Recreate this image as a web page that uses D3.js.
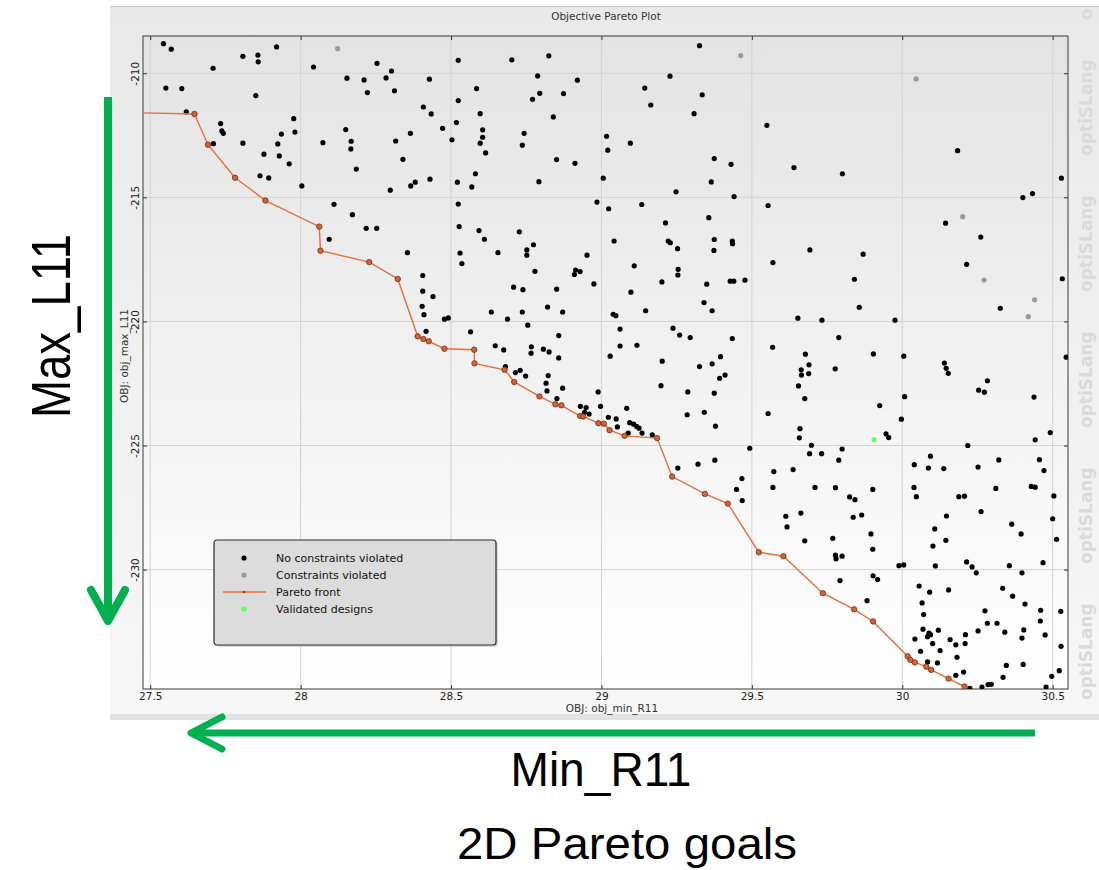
<!DOCTYPE html>
<html>
<head>
<meta charset="utf-8">
<script src="https://cdn.jsdelivr.net/npm/d3@7"></script>
<style>
  body { margin: 0; background: #fff; }
  svg { display: block; }
</style>
</head>
<body>
<div id="main"></div>
<script>
const ctx = {
    w: 1099,
    h: 870,
    panel: { left: 110, top: 6, right: 1099, bottom: 720 },
    plot: { left: 143, top: 36, right: 1068, bottom: 689 },
    font: "'DejaVu Sans', Verdana, sans-serif",
    noteFont: "'Liberation Sans', Arial, sans-serif",
    green: "#00b050",
};

// axis extent and ticks
const xDomain = [27.476, 30.551];
const yDomain = [-234.81, -208.5];
const xTicks = [27.5, 28, 28.5, 29, 29.5, 30, 30.5];
const yTicks = [-210, -215, -220, -225, -230];

// designs without violated constraints (obj_min_R11, obj_max_L11)
const feasibleR11 = [
    27.544, 27.570, 27.920, 27.808, 27.858, 27.859, 27.709, 28.043, 28.254, 28.302,
    28.284, 28.154, 28.211, 28.222, 28.312, 28.428, 28.524, 28.702, 28.825, 28.788,
    28.920, 28.585, 28.524, 28.771, 28.795, 28.874, 27.552, 27.605, 27.851, 27.620,
    27.734, 27.738, 27.743, 27.710, 27.808, 27.977, 27.981, 27.936, 27.924, 27.929,
    27.878, 27.962, 27.865, 27.894, 28.004, 28.074, 28.150, 28.168, 28.167, 28.185,
    28.408, 28.434, 28.365, 28.316, 28.472, 28.518, 28.503, 28.597, 28.605, 28.605,
    28.597, 28.615, 28.743, 28.737, 28.840, 28.851, 28.912, 28.340, 28.430, 28.381,
    28.366, 28.298, 28.521, 28.581, 28.569, 28.792, 28.524, 28.985, 28.111, 28.172,
    28.218, 28.253, 28.095, 28.527, 28.593, 28.611, 28.727, 28.774, 28.752, 28.355,
    28.530, 28.536, 28.656, 28.752, 28.779, 28.952, 28.914, 28.929, 28.910, 28.975,
    28.406, 28.406, 28.440, 28.404, 28.410, 28.478, 28.491, 28.417, 28.708, 28.739,
    28.851, 28.634, 28.688, 28.737, 28.821, 28.871, 28.755, 28.858, 28.565, 28.647,
    28.675, 28.767, 28.766, 28.807, 28.826, 28.858, 28.681, 28.714, 28.730, 28.748,
    28.823, 28.816, 28.819, 28.871, 28.852, 28.930, 28.949, 28.944, 28.959, 28.989,
    28.997, 29.098, 29.147, 29.039, 29.048, 29.062, 29.062, 29.118, 29.029, 29.084,
    29.023, 29.049, 29.053, 29.094, 29.107, 29.117, 29.125, 29.135, 29.169, 29.089,
    29.238, 29.260, 29.295, 29.202, 29.198, 29.287, 29.285, 29.326, 29.326, 29.228,
    29.144, 29.335, 29.164, 29.308, 29.017, 29.021, 29.096, 29.375, 29.431, 29.006,
    29.365, 29.248, 29.441, 29.024, 29.134, 29.213, 29.357, 29.042, 29.222, 29.229,
    29.375, 29.435, 29.436, 29.253, 29.374, 29.550, 29.640, 29.801, 29.554, 29.693,
    30.184, 30.529, 30.401, 30.433, 30.144, 30.261, 29.870, 29.570, 30.214, 30.326,
    30.532, 29.109, 29.201, 29.255, 29.254, 29.350, 29.428, 29.440, 29.477, 29.341,
    29.368, 29.435, 29.368, 29.396, 29.393, 29.411, 29.375, 29.342, 29.379, 29.493,
    29.254, 29.321, 29.377, 29.467, 29.449, 29.570, 29.573, 29.637, 29.569, 29.653,
    29.733, 29.789, 29.841, 29.857, 29.976, 29.678, 29.690, 29.664, 29.665, 29.689,
    29.777, 29.655, 29.676, 29.904, 30.005, 29.925, 30.008, 29.997, 29.946, 29.955,
    29.554, 29.660, 29.658, 29.698, 29.692, 29.732, 29.800, 29.789, 29.710, 29.778,
    29.902, 30.140, 30.146, 30.153, 30.254, 30.273, 30.283, 30.438, 30.545, 30.492,
    30.442, 30.218, 30.094, 30.040, 30.087, 30.138, 30.252, 30.321, 30.456, 30.471,
    30.039, 30.311, 30.429, 30.442, 29.468, 29.825, 29.843, 29.613, 29.617, 29.663,
    29.676, 29.769, 29.778, 29.780, 29.800, 29.837, 29.865, 29.896, 29.902, 29.793,
    29.903, 29.918, 29.883, 30.047, 30.188, 30.207, 30.504, 30.147, 30.262, 30.108,
    30.145, 30.102, 30.364, 30.395, 30.500, 30.513, 29.989, 30.005, 30.110, 30.214,
    30.232, 30.246, 30.356, 30.398, 30.468, 30.056, 30.091, 30.154, 30.066, 30.071,
    30.334, 30.367, 30.408, 30.275, 30.283, 30.315, 30.460, 30.527, 30.459, 30.069,
    30.089, 30.094, 30.084, 30.120, 30.042, 30.101, 30.159, 30.178, 30.210, 30.209,
    30.252, 30.341, 30.398, 30.404, 30.475, 30.528, 30.061, 30.126, 30.182, 30.084,
    30.117, 30.204, 30.178, 30.346, 30.402, 30.335, 30.497, 30.522, 30.225, 30.265,
    30.285, 30.296, 30.478
];
const feasibleL11 = [
    -208.81, -209.03, -208.94, -209.32, -209.27, -209.54, -209.80, -209.75, -209.60, -209.91,
    -210.19, -210.20, -210.27, -210.78, -210.71, -210.24, -209.48, -209.46, -209.30, -210.11,
    -210.28, -210.62, -211.10, -211.05, -210.81, -210.82, -210.60, -210.62, -210.90, -211.56,
    -212.03, -212.32, -212.42, -212.84, -212.82, -211.83, -212.37, -212.45, -212.85, -213.33,
    -213.26, -213.65, -214.13, -214.22, -214.54, -212.80, -212.27, -212.74, -213.05, -213.86,
    -211.36, -211.64, -212.42, -212.73, -212.22, -211.99, -212.68, -211.63, -212.28, -212.58,
    -212.82, -213.21, -212.42, -212.90, -211.76, -213.48, -213.63, -213.47, -214.27, -214.39,
    -214.54, -214.71, -214.39, -214.05, -214.58, -214.37, -215.27, -215.19, -215.28, -215.70,
    -216.25, -216.25, -216.69, -216.18, -216.34, -216.69, -216.39, -216.91, -217.12, -217.23,
    -217.25, -217.67, -217.23, -217.33, -217.98, -217.33, -217.93, -217.99, -218.11, -218.49,
    -218.15, -218.78, -219.00, -219.39, -219.73, -219.91, -219.86, -220.40, -218.62, -218.72,
    -218.70, -219.62, -219.91, -219.62, -219.42, -219.62, -220.15, -220.57, -220.42, -220.98,
    -221.15, -221.02, -221.28, -221.12, -221.23, -221.47, -221.82, -222.06, -221.97, -222.20,
    -222.18, -222.49, -222.80, -222.69, -223.11, -223.42, -223.47, -223.66, -223.73, -222.84,
    -223.42, -218.82, -219.57, -219.71, -219.77, -220.31, -220.99, -220.96, -221.40, -223.50,
    -223.86, -223.93, -224.25, -224.08, -224.14, -224.23, -224.30, -224.50, -224.57, -224.50,
    -220.27, -220.55, -220.65, -221.60, -222.59, -222.84, -223.76, -221.82, -208.89, -210.12,
    -210.60, -210.87, -211.28, -211.63, -212.54, -213.10, -212.82, -213.44, -213.67, -214.23,
    -214.38, -214.78, -214.97, -215.46, -215.29, -216.03, -215.82, -216.76, -216.76, -216.83,
    -216.70, -216.76, -216.87, -217.07, -217.14, -212.10, -213.80, -214.05, -215.33, -217.12,
    -213.12, -214.23, -215.01, -214.85, -216.04, -216.60, -217.29, -217.63, -217.70, -219.47,
    -218.28, -217.76, -218.41, -217.90, -218.13, -218.50, -218.38, -218.38, -218.34, -219.24,
    -219.57, -220.69, -221.71, -221.42, -222.29, -222.16, -222.89, -223.66, -224.22, -225.11,
    -225.91, -225.75, -225.59, -226.33, -226.77, -226.69, -226.05, -225.97, -221.04, -219.87,
    -219.95, -220.65, -218.30, -219.43, -219.95, -221.32, -221.75, -221.95, -222.16, -222.10,
    -221.91, -222.60, -223.11, -221.31, -221.40, -223.39, -223.03, -223.94, -224.53, -224.68,
    -223.71, -224.32, -224.69, -224.99, -225.33, -225.33, -225.14, -225.59, -226.69, -226.70,
    -226.77, -221.68, -221.89, -222.09, -222.77, -222.85, -222.39, -223.05, -221.44, -224.48,
    -224.77, -225.00, -225.43, -225.77, -225.91, -225.93, -225.87, -225.58, -225.57, -226.01,
    -226.69, -226.73, -226.65, -226.68, -227.22, -227.07, -227.18, -227.85, -228.28, -227.72,
    -228.84, -228.74, -229.42, -229.56, -229.46, -227.89, -227.80, -228.56, -229.18, -230.44,
    -230.25, -230.40, -231.25, -227.06, -227.06, -227.04, -227.03, -227.84, -227.66, -228.36,
    -228.82, -229.05, -228.17, -228.56, -227.95, -228.78, -229.84, -229.81, -229.85, -229.69,
    -229.89, -230.13, -229.84, -230.13, -229.72, -230.66, -230.91, -230.82, -231.34, -231.81,
    -230.75, -231.07, -231.39, -231.66, -232.16, -232.16, -231.64, -231.68, -232.07, -232.40,
    -232.56, -232.62, -232.70, -232.44, -232.80, -232.98, -232.82, -233.03, -232.62, -232.98,
    -232.47, -232.52, -232.76, -232.43, -232.63, -233.09, -233.29, -233.26, -233.53, -233.72,
    -233.76, -234.13, -234.26, -233.86, -233.82, -234.34, -234.30, -234.07, -234.78, -234.73,
    -234.63, -234.62, -234.73
];

// designs with violated constraints
const violatedR11 = [28.123, 29.463, 30.046, 30.201, 30.272, 30.440, 30.419];
const violatedL11 = [-209.01, -209.29, -210.23, -215.78, -218.33, -219.13, -219.81];

// pareto front, sorted along obj_min_R11
const paretoR11 = [
    27.400, 27.647, 27.692, 27.782, 27.883, 28.062, 28.066, 28.228, 28.323, 28.389,
    28.408, 28.426, 28.478, 28.577, 28.578, 28.678, 28.710, 28.794, 28.847, 28.867,
    28.929, 28.939, 28.990, 29.008, 29.027, 29.077, 29.185, 29.235, 29.344, 29.420,
    29.523, 29.605, 29.736, 29.840, 29.903, 30.018, 30.027, 30.042, 30.080, 30.096,
    30.154, 30.207, 30.225
];
const paretoL11 = [
    -211.58, -211.64, -212.88, -214.21, -215.13, -216.18, -217.15, -217.61, -218.29, -220.60,
    -220.71, -220.80, -221.10, -221.14, -221.69, -221.95, -222.44, -223.02, -223.34, -223.38,
    -223.81, -223.83, -224.10, -224.12, -224.38, -224.61, -224.70, -226.25, -226.95, -227.34,
    -229.30, -229.46, -230.95, -231.60, -232.09, -233.49, -233.64, -233.74, -233.91, -234.04,
    -234.39, -234.71, -235.00
];

// validated designs
const validatedR11 = [29.906];
const validatedL11 = [-224.76];

const legendLabels = ["No constraints violated", "Constraints violated", "Pareto front", "Validated designs"];
// watermark: start of each word along the right margin (the top one is only partly visible)
const watermarkStarts = [20, 156, 292, 428, 564, 700];
const watermarkWords = ["o", "optiSLang", "optiSLang", "optiSLang", "optiSLang", "optiSLang"];

function createViz() {
    const svgEl = d3.select("#main").append("svg")
        .attr("width", ctx.w)
        .attr("height", ctx.h);
    svgEl.append("rect").attr("width", ctx.w).attr("height", ctx.h).attr("fill", "#fff");

    const defs = svgEl.append("defs");
    const pg = defs.append("linearGradient").attr("id", "panelGrad")
        .attr("x1", 0).attr("y1", 0).attr("x2", 0).attr("y2", 1);
    pg.append("stop").attr("offset", "0%").attr("stop-color", "#e9e9e9");
    pg.append("stop").attr("offset", "100%").attr("stop-color", "#f7f7f7");
    const bg = defs.append("linearGradient").attr("id", "plotGrad")
        .attr("x1", 0).attr("y1", 0).attr("x2", 0).attr("y2", 1);
    bg.append("stop").attr("offset", "0%").attr("stop-color", "#e3e3e3");
    bg.append("stop").attr("offset", "100%").attr("stop-color", "#ffffff");
    defs.append("clipPath").attr("id", "plotClip").append("rect")
        .attr("x", ctx.plot.left).attr("y", ctx.plot.top)
        .attr("width", ctx.plot.right - ctx.plot.left)
        .attr("height", ctx.plot.bottom - ctx.plot.top);

    const rootG = svgEl.append("g").attr("id", "rootG");
    const xScale = d3.scaleLinear().domain(xDomain).range([ctx.plot.left, ctx.plot.right]);
    const yScale = d3.scaleLinear().domain(yDomain).range([ctx.plot.bottom, ctx.plot.top]);

    drawPanel(rootG);
    drawGraph(rootG, xScale, yScale);
    drawLegend(rootG);
    drawNotes(rootG);
}

function drawPanel(svg) {
    const p = ctx.panel;
    svg.append("rect")
        .attr("x", p.left).attr("y", p.top)
        .attr("width", p.right - p.left).attr("height", p.bottom - p.top)
        .attr("fill", "url(#panelGrad)");
    svg.append("line")
        .attr("x1", p.left).attr("x2", p.right).attr("y1", p.top + 0.5).attr("y2", p.top + 0.5)
        .attr("stroke", "#c9c9c9");
    svg.append("rect")
        .attr("x", p.left).attr("y", p.bottom - 6)
        .attr("width", p.right - p.left).attr("height", 6)
        .attr("fill", "#e3e3e3");

    // optiSLang watermark
    svg.append("g").selectAll("text")
        .data(watermarkStarts)
        .enter()
        .append("text")
        .attr("transform", d => `translate(1092, ${d}) rotate(-90)`)
        .attr("text-anchor", "start")
        .style("font-family", ctx.font)
        .style("font-size", "17px")
        .style("font-weight", "bold")
        .style("fill", "#dadada")
        .text((d, i) => watermarkWords[i]);

    svg.append("text")
        .attr("x", 606)
        .attr("y", 20)
        .attr("text-anchor", "middle")
        .style("font-family", ctx.font)
        .style("font-size", "10.5px")
        .style("fill", "#333")
        .text("Objective Pareto Plot");
}

function drawGraph(svg, xScale, yScale) {
    const pl = ctx.plot;
    svg.append("rect")
        .attr("x", pl.left).attr("y", pl.top)
        .attr("width", pl.right - pl.left).attr("height", pl.bottom - pl.top)
        .attr("fill", "url(#plotGrad)");

    // grid
    svg.append("g").selectAll("line")
        .data(xTicks).enter().append("line")
        .attr("x1", d => xScale(d)).attr("x2", d => xScale(d))
        .attr("y1", pl.top).attr("y2", pl.bottom)
        .attr("stroke", "#d3d3d3");
    svg.append("g").selectAll("line")
        .data(yTicks).enter().append("line")
        .attr("x1", pl.left).attr("x2", pl.right)
        .attr("y1", d => yScale(d)).attr("y2", d => yScale(d))
        .attr("stroke", "#d3d3d3");

    // axes, ticks pointing inward
    const styleAxis = g => {
        g.select(".domain").remove();
        g.selectAll("line").attr("stroke", "#333");
        g.selectAll("text")
            .style("font-family", ctx.font)
            .style("font-size", "10.5px")
            .style("fill", "#222");
    };
    svg.append("g")
        .attr("transform", `translate(0, ${pl.bottom})`)
        .call(d3.axisBottom(xScale).tickValues(xTicks).tickSize(-4).tickPadding(4).tickFormat(d => String(d)))
        .call(styleAxis);
    svg.append("g")
        .attr("transform", `translate(0, ${pl.top})`)
        .call(d3.axisTop(xScale).tickValues(xTicks).tickSize(-4).tickFormat(""))
        .call(styleAxis);
    svg.append("g")
        .attr("transform", `translate(${pl.right}, 0)`)
        .call(d3.axisRight(yScale).tickValues(yTicks).tickSize(-4).tickFormat(""))
        .call(styleAxis);
    svg.append("g")
        .attr("transform", `translate(${pl.left}, 0)`)
        .call(d3.axisLeft(yScale).tickValues(yTicks).tickSize(-4).tickFormat(d => String(d)))
        .call(styleAxis)
        .selectAll("text")
        .attr("x", null)
        .attr("dy", null)
        .attr("text-anchor", "middle")
        .attr("transform", "translate(-4, 0) rotate(-90)");

    svg.append("rect")
        .attr("x", pl.left).attr("y", pl.top)
        .attr("width", pl.right - pl.left).attr("height", pl.bottom - pl.top)
        .attr("fill", "none")
        .attr("stroke", "#3a3a3a");

    // axis names
    svg.append("text")
        .attr("x", 612)
        .attr("y", 712)
        .attr("text-anchor", "middle")
        .style("font-family", ctx.font)
        .style("font-size", "10.5px")
        .style("fill", "#333")
        .text("OBJ: obj_min_R11");
    svg.append("text")
        .attr("transform", "translate(128, 356) rotate(-90)")
        .attr("text-anchor", "middle")
        .style("font-family", ctx.font)
        .style("font-size", "10.5px")
        .style("fill", "#333")
        .text("OBJ: obj_max_L11");

    const marks = svg.append("g").attr("clip-path", "url(#plotClip)");

    marks.selectAll(".feasible")
        .data(d3.range(feasibleR11.length))
        .enter()
        .append("circle")
        .attr("class", "feasible")
        .attr("cx", i => xScale(feasibleR11[i]))
        .attr("cy", i => yScale(feasibleL11[i]))
        .attr("r", 2.6)
        .style("fill", "#000");

    marks.selectAll(".violated")
        .data(d3.range(violatedR11.length))
        .enter()
        .append("circle")
        .attr("class", "violated")
        .attr("cx", i => xScale(violatedR11[i]))
        .attr("cy", i => yScale(violatedL11[i]))
        .attr("r", 2.6)
        .style("fill", "#9a9a9a");

    // pareto front
    const line = d3.line()
        .x(i => xScale(paretoR11[i]))
        .y(i => yScale(paretoL11[i]));
    marks.append("path")
        .datum(d3.range(paretoR11.length))
        .attr("d", line)
        .attr("fill", "none")
        .attr("stroke", "#e2703c")
        .attr("stroke-width", 1.4);
    marks.selectAll(".pareto")
        .data(d3.range(1, paretoR11.length - 1))
        .enter()
        .append("circle")
        .attr("class", "pareto")
        .attr("cx", i => xScale(paretoR11[i]))
        .attr("cy", i => yScale(paretoL11[i]))
        .attr("r", 2.7)
        .style("fill", "#d4643a")
        .style("stroke", "#6e2a10")
        .style("stroke-width", 0.8);

    marks.selectAll(".validated")
        .data(d3.range(validatedR11.length))
        .enter()
        .append("circle")
        .attr("class", "validated")
        .attr("cx", i => xScale(validatedR11[i]))
        .attr("cy", i => yScale(validatedL11[i]))
        .attr("r", 2.6)
        .style("fill", "#66ff66");
}

function drawLegend(svg) {
    const lg = svg.append("g").attr("transform", "translate(214, 540)");
    lg.append("rect")
        .attr("x", 2).attr("y", 2)
        .attr("width", 282).attr("height", 105).attr("rx", 3)
        .attr("fill", "#c4c4c4").attr("opacity", 0.6);
    lg.append("rect")
        .attr("width", 282).attr("height", 105).attr("rx", 3)
        .attr("fill", "#dcdcdc")
        .attr("stroke", "#2a2a2a")
        .attr("stroke-width", 1.2);

    const rowY = i => 18 + i * 17;
    lg.selectAll("text")
        .data(legendLabels)
        .enter()
        .append("text")
        .attr("x", 62)
        .attr("y", (d, i) => rowY(i) + 4)
        .style("font-family", ctx.font)
        .style("font-size", "11px")
        .style("fill", "#111")
        .text(d => d);

    lg.append("circle").attr("cx", 30).attr("cy", rowY(0)).attr("r", 2.6).style("fill", "#000");
    lg.append("circle").attr("cx", 30).attr("cy", rowY(1)).attr("r", 2.6).style("fill", "#9a9a9a");
    lg.append("line")
        .attr("x1", 9).attr("x2", 52).attr("y1", rowY(2)).attr("y2", rowY(2))
        .attr("stroke", "#e2703c").attr("stroke-width", 1.4);
    lg.append("circle").attr("cx", 30).attr("cy", rowY(2)).attr("r", 1.3).style("fill", "#a8401c");
    lg.append("circle").attr("cx", 30).attr("cy", rowY(3)).attr("r", 2.8).style("fill", "#66ff66");
}

function drawNotes(svg) {
    // goal arrows
    svg.append("line")
        .attr("x1", 108).attr("x2", 108).attr("y1", 97).attr("y2", 618)
        .attr("stroke", ctx.green).attr("stroke-width", 8);
    svg.append("path")
        .attr("d", "M91,590 L108,621 L125,590")
        .attr("fill", "none")
        .attr("stroke", ctx.green).attr("stroke-width", 8)
        .attr("stroke-linecap", "round").attr("stroke-linejoin", "round");
    svg.append("line")
        .attr("x1", 1035).attr("x2", 194).attr("y1", 733).attr("y2", 733)
        .attr("stroke", ctx.green).attr("stroke-width", 7);
    svg.append("path")
        .attr("d", "M222,717 L191,733 L222,749")
        .attr("fill", "none")
        .attr("stroke", ctx.green).attr("stroke-width", 7)
        .attr("stroke-linecap", "round").attr("stroke-linejoin", "round");

    svg.append("text")
        .attr("transform", "translate(70, 326) rotate(-90)")
        .attr("text-anchor", "middle")
        .attr("textLength", 184)
        .attr("lengthAdjust", "spacingAndGlyphs")
        .style("font-family", ctx.noteFont)
        .style("font-size", "56px")
        .style("fill", "#000")
        .text("Max_L11");
    svg.append("text")
        .attr("x", 601)
        .attr("y", 786)
        .attr("text-anchor", "middle")
        .attr("textLength", 181)
        .attr("lengthAdjust", "spacingAndGlyphs")
        .style("font-family", ctx.noteFont)
        .style("font-size", "49px")
        .style("fill", "#000")
        .text("Min_R11");
    svg.append("text")
        .attr("x", 627)
        .attr("y", 859)
        .attr("text-anchor", "middle")
        .attr("textLength", 340)
        .attr("lengthAdjust", "spacingAndGlyphs")
        .style("font-family", ctx.noteFont)
        .style("font-size", "44px")
        .style("fill", "#000")
        .text("2D Pareto goals");
}

createViz();
</script>
</body>
</html>
